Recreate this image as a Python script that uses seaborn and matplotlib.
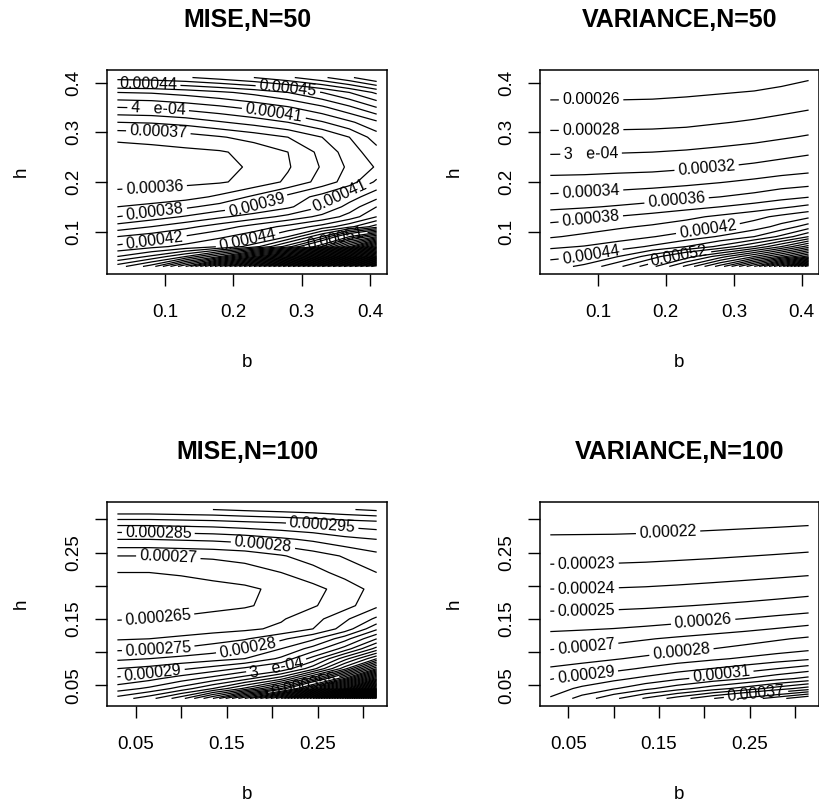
import numpy as np
import matplotlib
matplotlib.use("Agg")
import matplotlib.pyplot as plt
import seaborn as sns

# grids: b along the columns, h along the rows
b50 = [0.03, 0.08, 0.13, 0.18, 0.23, 0.28, 0.33, 0.37, 0.41]
h50 = [0.03, 0.05, 0.07, 0.09, 0.11, 0.13, 0.15, 0.17, 0.20, 0.23, 0.26, 0.29, 0.32, 0.35, 0.38, 0.41]
b100 = [0.03, 0.065, 0.10, 0.135, 0.17, 0.21, 0.245, 0.28, 0.315]
h100 = [0.03, 0.045, 0.06, 0.075, 0.09, 0.105, 0.12, 0.135, 0.15, 0.17, 0.195, 0.22, 0.245, 0.27, 0.295, 0.315]

# values, in units of 1e-5
mise50 = [
    [46.5, 48.5, 53.0, 60.0, 67.0, 74.0, 81.0, 86.0, 91.0],
    [44.0, 45.2, 47.0, 50.0, 55.0, 60.0, 66.0, 71.0, 76.0],
    [42.2, 42.7, 43.3, 44.0, 45.5, 48.5, 53.0, 58.0, 64.0],
    [41.0, 41.5, 42.1, 42.8, 43.6, 45.0, 48.0, 52.0, 55.0],
    [39.4, 40.0, 40.7, 41.5, 42.4, 43.3, 44.4, 45.7, 47.5],
    [38.0, 38.5, 39.1, 39.8, 40.5, 41.3, 42.3, 43.4, 45.0],
    [37.0, 37.3, 37.8, 38.4, 39.0, 39.8, 41.0, 42.4, 44.0],
    [36.3, 36.4, 36.6, 37.2, 38.2, 39.3, 40.4, 41.5, 42.7],
    [35.7, 35.75, 35.8, 35.9, 36.3, 37.2, 38.4, 39.5, 41.2],
    [35.5, 35.6, 35.7, 35.8, 36.1, 36.9, 38.1, 39.2, 40.1],
    [35.6, 35.7, 35.8, 35.9, 36.3, 37.0, 38.3, 39.5, 40.6],
    [36.2, 36.3, 36.5, 36.9, 37.4, 38.0, 39.0, 40.0, 41.5],
    [38.0, 38.1, 38.4, 38.9, 39.4, 40.0, 40.9, 41.8, 42.8],
    [40.0, 40.1, 40.4, 40.8, 41.3, 41.9, 42.8, 43.8, 45.0],
    [42.0, 42.1, 42.4, 42.8, 43.3, 44.0, 45.0, 46.0, 47.2],
    [45.5, 45.6, 45.9, 46.4, 47.0, 47.8, 48.8, 49.8, 51.0],
]
var50 = [
    [45.0, 46.5, 49.5, 53.5, 58.5, 65.0, 74.0, 85.0, 100.0],
    [43.5, 44.0, 46.0, 49.0, 53.0, 57.0, 62.0, 67.0, 73.0],
    [41.6, 42.1, 43.0, 44.3, 46.0, 48.5, 52.0, 56.0, 61.0],
    [39.8, 40.4, 41.1, 41.9, 42.9, 44.2, 46.0, 48.5, 52.0],
    [38.6, 39.1, 39.7, 40.3, 41.0, 41.8, 43.0, 44.7, 47.0],
    [37.1, 37.5, 38.1, 38.7, 39.5, 40.4, 41.4, 42.5, 43.6],
    [35.5, 35.8, 36.2, 36.7, 37.3, 38.0, 38.8, 39.6, 40.5],
    [34.35, 34.5, 34.8, 35.1, 35.5, 36.0, 36.6, 37.3, 37.9],
    [32.7, 32.8, 33.0, 33.2, 33.5, 33.9, 34.4, 34.9, 35.2],
    [31.1, 31.15, 31.3, 31.4, 31.7, 32.0, 32.4, 32.8, 33.2],
    [29.8, 29.85, 29.9, 30.0, 30.2, 30.5, 30.9, 31.3, 31.7],
    [28.5, 28.5, 28.55, 28.6, 28.8, 29.1, 29.4, 29.8, 30.2],
    [27.4, 27.4, 27.45, 27.5, 27.6, 27.9, 28.2, 28.5, 28.9],
    [26.5, 26.5, 26.5, 26.55, 26.7, 26.9, 27.2, 27.5, 27.8],
    [25.5, 25.5, 25.5, 25.55, 25.7, 25.9, 26.1, 26.4, 26.8],
    [24.5, 24.5, 24.5, 24.55, 24.7, 24.9, 25.1, 25.4, 25.8],
]
mise100 = [
    [30.7, 31.3, 32.3, 34.0, 36.5, 40.0, 45.0, 51.0, 58.0],
    [29.75, 30.1, 30.7, 31.5, 32.6, 34.5, 37.5, 41.5, 47.0],
    [29.1, 29.35, 29.75, 30.2, 30.8, 31.8, 33.8, 36.6, 41.0],
    [28.5, 28.65, 28.9, 29.2, 29.6, 30.1, 31.3, 33.3, 36.5],
    [27.9, 28.0, 28.15, 28.3, 28.5, 29.1, 30.2, 31.8, 33.5],
    [27.4, 27.45, 27.55, 27.75, 28.0, 28.5, 29.2, 30.2, 31.7],
    [26.95, 27.0, 27.1, 27.25, 27.45, 27.9, 28.4, 29.3, 30.5],
    [26.7, 26.72, 26.76, 26.82, 26.9, 27.1, 27.5, 28.2, 29.4],
    [26.47, 26.5, 26.55, 26.62, 26.75, 26.95, 27.3, 27.9, 28.6],
    [26.3, 26.3, 26.35, 26.4, 26.45, 26.65, 26.95, 27.3, 27.9],
    [26.2, 26.25, 26.3, 26.4, 26.42, 26.6, 26.85, 27.2, 27.7],
    [26.5, 26.5, 26.55, 26.6, 26.75, 27.0, 27.3, 27.7, 28.0],
    [27.0, 27.0, 27.05, 27.1, 27.2, 27.45, 27.75, 28.05, 28.35],
    [28.0, 28.0, 28.05, 28.1, 28.2, 28.4, 28.6, 28.85, 29.0],
    [29.2, 29.2, 29.25, 29.3, 29.4, 29.5, 29.6, 29.75, 29.85],
    [30.4, 30.4, 30.45, 30.5, 30.6, 30.7, 30.8, 30.95, 31.1],
]
var100 = [
    [30.1, 31.4, 32.77, 34.13, 35.44, 36.97, 38.28, 39.58, 41.0],
    [29.5, 30.2, 30.9, 31.74, 32.58, 33.56, 34.4, 35.45, 36.5],
    [28.95, 29.3, 29.73, 30.25, 30.82, 31.43, 31.99, 32.65, 33.3],
    [28.1, 28.37, 28.71, 29.12, 29.56, 30.04, 30.48, 30.99, 31.5],
    [27.5, 27.69, 27.92, 28.2, 28.51, 28.84, 29.15, 29.5, 29.85],
    [26.95, 27.1, 27.28, 27.51, 27.75, 28.0, 28.25, 28.52, 28.8],
    [26.4, 26.54, 26.72, 26.93, 27.15, 27.4, 27.63, 27.89, 28.15],
    [25.85, 25.92, 26.02, 26.17, 26.36, 26.58, 26.79, 27.04, 27.3],
    [25.35, 25.38, 25.43, 25.52, 25.66, 25.85, 26.03, 26.23, 26.45],
    [24.75, 24.77, 24.8, 24.86, 24.95, 25.07, 25.18, 25.31, 25.45],
    [24.0, 24.02, 24.05, 24.1, 24.18, 24.29, 24.4, 24.52, 24.65],
    [23.3, 23.32, 23.34, 23.38, 23.45, 23.55, 23.64, 23.74, 23.85],
    [22.7, 22.71, 22.73, 22.77, 22.83, 22.9, 22.98, 23.06, 23.15],
    [22.15, 22.16, 22.17, 22.2, 22.25, 22.31, 22.37, 22.43, 22.5],
    [21.6, 21.61, 21.62, 21.65, 21.68, 21.74, 21.79, 21.84, 21.9],
    [21.15, 21.16, 21.17, 21.19, 21.22, 21.26, 21.31, 21.35, 21.4],
]

ticks50 = [0.1, 0.2, 0.3, 0.4]
ticklabels50 = ["0.1", "0.2", "0.3", "0.4"]
ticks100 = [0.05, 0.10, 0.15, 0.20, 0.25, 0.30]
ticklabels100 = ["0.05", "", "0.15", "", "0.25", ""]

# where the contour labels sit (b, h)
spots_mise50 = [(0.075, 0.40), (0.28, 0.39), (0.09, 0.352), (0.26, 0.345), (0.09, 0.30),
                (0.085, 0.18), (0.085, 0.138), (0.235, 0.15), (0.355, 0.176), (0.085, 0.08),
                (0.22, 0.087), (0.35, 0.087)]
spots_var50 = [(0.09, 0.365), (0.09, 0.304), (0.09, 0.255), (0.26, 0.227), (0.09, 0.176),
               (0.216, 0.159), (0.09, 0.12), (0.262, 0.105), (0.09, 0.05), (0.22, 0.048)]
spots_mise100 = [(0.075, 0.279), (0.255, 0.289), (0.19, 0.261), (0.086, 0.244), (0.075, 0.148),
                 (0.075, 0.103), (0.174, 0.103), (0.069, 0.066), (0.205, 0.077), (0.235, 0.05)]
spots_var100 = [(0.16, 0.279), (0.07, 0.232), (0.07, 0.195), (0.07, 0.161), (0.199, 0.14),
                (0.07, 0.104), (0.175, 0.095), (0.07, 0.059), (0.219, 0.063), (0.257, 0.036)]


def r_label(v):
    # mimic R's contour label text
    if abs(v - round(v / 10) * 10) < 1e-9:
        return f"{int(round(v / 10))}   e-04"
    return f"{v * 1e-5:.6f}".rstrip("0")


def draw(ax, b, h, z, levels, title, ticks, ticklabels, spots):
    cs = ax.contour(b, h, np.array(z), levels=levels, colors="black", linewidths=0.9)
    ax.clabel(cs, manual=spots, inline=True, fmt=r_label, fontsize=11.5, inline_spacing=6)
    pad = 0.04 * (max(b) - min(b))
    ax.set_xlim(min(b) - pad, max(b) + pad)
    pad = 0.04 * (max(h) - min(h))
    ax.set_ylim(min(h) - pad, max(h) + pad)
    ax.set_xticks(ticks)
    ax.set_xticklabels(ticklabels)
    ax.set_yticks(ticks)
    ax.set_yticklabels(ticklabels, rotation=90, va="center")
    ax.tick_params(direction="out", length=8.6, width=1.0, labelsize=13.5,
                   color="black", labelcolor="black")
    ax.tick_params(axis="x", pad=13)
    ax.tick_params(axis="y", pad=9)
    for s in ax.spines.values():
        s.set_visible(True)
        s.set_linewidth(1.1)
        s.set_color("black")
    ax.set_xlabel("b", fontsize=13.5, labelpad=24, color="black")
    ax.set_ylabel("h", fontsize=13.5, labelpad=26, color="black")
    ax.set_title(title, fontsize=18, fontweight="bold", pad=31, color="black")


sns.set_theme(style="ticks")
plt.rcParams["font.family"] = ["Liberation Sans", "DejaVu Sans"]
plt.rcParams["text.color"] = "black"

fig = plt.figure(figsize=(8.2, 8.09), dpi=100)
ax1 = fig.add_axes([0.1305, 0.6613, 0.3415, 0.2522])
ax2 = fig.add_axes([0.6585, 0.6613, 0.3402, 0.2522])
ax3 = fig.add_axes([0.1305, 0.1273, 0.3415, 0.2522])
ax4 = fig.add_axes([0.6585, 0.1273, 0.3402, 0.2522])

draw(ax1, b50, h50, mise50, np.arange(36, 92, 1), "MISE,N=50", ticks50, ticklabels50, spots_mise50)
draw(ax2, b50, h50, var50, np.arange(24, 101, 2), "VARIANCE,N=50", ticks50, ticklabels50, spots_var50)
draw(ax3, b100, h100, mise100, np.arange(26.5, 60, 0.5), "MISE,N=100", ticks100, ticklabels100, spots_mise100)
draw(ax4, b100, h100, var100, np.arange(22, 42, 1), "VARIANCE,N=100", ticks100, ticklabels100, spots_var100)

fig.savefig("out.png", dpi=100, facecolor="white")
